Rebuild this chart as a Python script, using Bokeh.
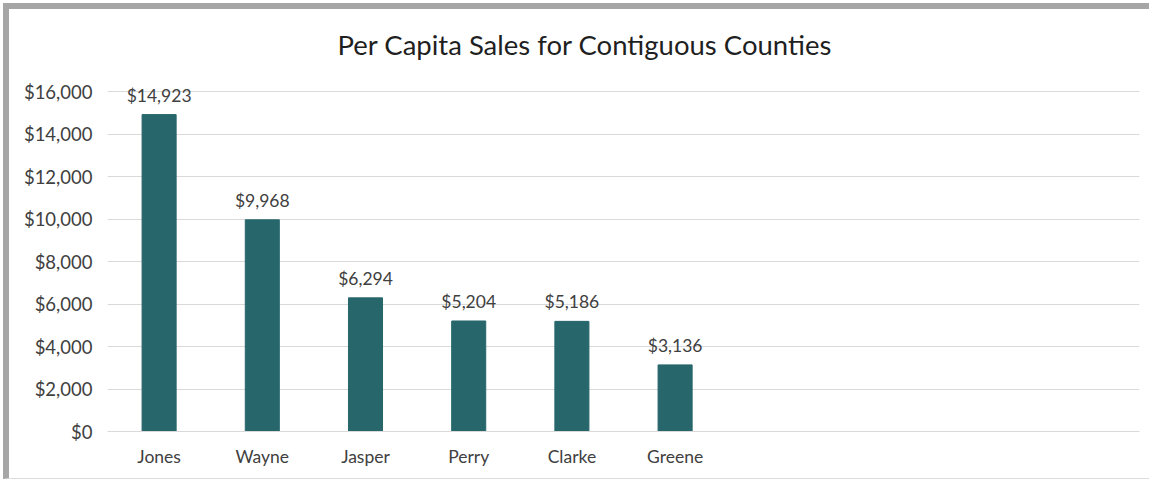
from bokeh.plotting import figure
from bokeh.models import ColumnDataSource, LabelSet, FactorRange, Range1d, NumeralTickFormatter, FixedTicker, Title
from bokeh.core.properties import value
from bokeh.embed import file_html
from bokeh.resources import INLINE

counties = ["Jones", "Wayne", "Jasper", "Perry", "Clarke", "Greene"]
sales = [14923, 9968, 6294, 5204, 5186, 3136]
empty_slots = [" ", "  ", "   ", "    "]
y_ticks = [0, 2000, 4000, 6000, 8000, 10000, 12000, 14000, 16000]
title_text = "Per Capita Sales for Contiguous Counties"

FONT = "Lato"
BAR = "#27676c"
TXT = "#404040"
GRID = "#d9d9d9"
FRAME = "#a6a6a6"

src = ColumnDataSource(dict(
    county=counties,
    sales=sales,
    label=["${:,}".format(v) for v in sales],
))

p = figure(
    width=1140, height=469,
    x_range=FactorRange(factors=counties + empty_slots, range_padding=0),
    y_range=Range1d(0, 17000),
    output_backend="svg", toolbar_location=None,
    min_border_left=98, min_border_right=16, min_border_top=61, min_border_bottom=54,
)
p.title = Title(text=title_text, align="left", text_font=FONT, text_font_size="27.5px",
                text_font_style="normal", text_color="#1f1f1f", offset=230, standoff=19)

p.vbar(x="county", top="sales", width=0.33, source=src, fill_color=BAR, line_color=BAR)

labels = LabelSet(x="county", y="sales", text="label", source=src, y_offset=9,
                  text_align="center", text_baseline="bottom",
                  text_font=value(FONT), text_font_size="17.5px", text_color=TXT)
p.add_layout(labels)

p.outline_line_color = None
p.background_fill_color = "white"
p.border_fill_color = "white"
p.xgrid.grid_line_color = None
p.ygrid.grid_line_color = GRID
p.ygrid.grid_line_width = 1

p.yaxis.ticker = FixedTicker(ticks=y_ticks)
p.yaxis.formatter = NumeralTickFormatter(format="$0,0")
p.yaxis.axis_line_color = None
p.yaxis.major_tick_line_color = None
p.yaxis.minor_tick_line_color = None
p.yaxis.major_tick_out = 0
p.yaxis.major_label_standoff = 15
p.yaxis.major_label_text_font = FONT
p.yaxis.major_label_text_font_size = "18.5px"
p.yaxis.major_label_text_color = TXT

p.xaxis.axis_line_color = GRID
p.xaxis.major_tick_line_color = None
p.xaxis.minor_tick_line_color = None
p.xaxis.major_tick_out = 0
p.xaxis.major_label_standoff = 14
p.xaxis.major_label_text_font = FONT
p.xaxis.major_label_text_font_size = "17.5px"
p.xaxis.major_label_text_color = TXT

# chart-area frame: thick grey left/top edge, thin bottom edge, nothing on the right
p.styles = {"box-sizing": "content-box", "margin-left": "3px", "margin-top": "3px",
            "border-left": "6px solid " + FRAME, "border-top": "6px solid " + FRAME,
            "border-bottom": "1px solid #dcdcdc", "border-right": "0px none white",
            "outline": "none"}

open("out.html", "w").write(file_html(p, INLINE))
